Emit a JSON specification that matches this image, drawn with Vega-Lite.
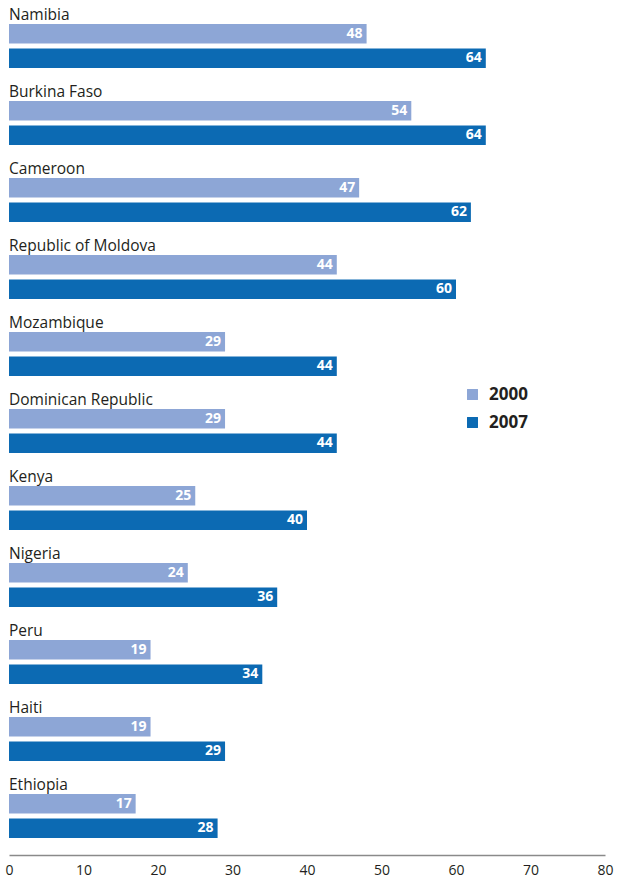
{
  "$schema": "https://vega.github.io/schema/vega-lite/v6.json",
  "width": 596,
  "height": 855,
  "autosize": {"type": "none"},
  "padding": {"left": 9, "top": 0, "right": 12, "bottom": 25},
  "background": "white",
  "config": {"view": {"stroke": null}, "font": "Open Sans"},
  "data": {"values": [
    {"country": "Namibia", "year": "2000", "value": 48},
    {"country": "Namibia", "year": "2007", "value": 64},
    {"country": "Burkina Faso", "year": "2000", "value": 54},
    {"country": "Burkina Faso", "year": "2007", "value": 64},
    {"country": "Cameroon", "year": "2000", "value": 47},
    {"country": "Cameroon", "year": "2007", "value": 62},
    {"country": "Republic of Moldova", "year": "2000", "value": 44},
    {"country": "Republic of Moldova", "year": "2007", "value": 60},
    {"country": "Mozambique", "year": "2000", "value": 29},
    {"country": "Mozambique", "year": "2007", "value": 44},
    {"country": "Dominican Republic", "year": "2000", "value": 29},
    {"country": "Dominican Republic", "year": "2007", "value": 44},
    {"country": "Kenya", "year": "2000", "value": 25},
    {"country": "Kenya", "year": "2007", "value": 40},
    {"country": "Nigeria", "year": "2000", "value": 24},
    {"country": "Nigeria", "year": "2007", "value": 36},
    {"country": "Peru", "year": "2000", "value": 19},
    {"country": "Peru", "year": "2007", "value": 34},
    {"country": "Haiti", "year": "2000", "value": 19},
    {"country": "Haiti", "year": "2007", "value": 29},
    {"country": "Ethiopia", "year": "2000", "value": 17},
    {"country": "Ethiopia", "year": "2007", "value": 28}
  ]},
  "encoding": {
    "y": {
      "field": "country", "type": "nominal", "sort": null,
      "scale": {"paddingInner": 0.42857, "paddingOuter": 0.2662, "align": 0.585},
      "axis": null
    }
  },
  "layer": [
    {
      "mark": {"type": "bar"},
      "encoding": {
        "x": {
          "field": "value", "type": "quantitative",
          "scale": {"domain": [0, 80], "nice": false},
          "axis": {
            "title": null, "grid": false, "ticks": false, "values": [0,10,20,30,40,50,60,70,80],
            "domainColor": "#8a8a8a", "domainWidth": 1.5,
            "labelFont": "Open Sans", "labelFontSize": 14, "labelColor": "#231F20",
            "labelPadding": 8, "labelFlush": false
          }
        },
        "yOffset": {"field": "year", "type": "nominal", "scale": {"paddingInner": 0.204, "paddingOuter": 0}},
        "color": {
          "field": "year", "type": "nominal",
          "scale": {"domain": ["2000", "2007"], "range": ["#8DA6D6", "#0C6AB3"]},
          "legend": {
            "title": null, "orient": "none", "legendX": 455, "legendY": 386,
            "padding": 0, "symbolType": "square", "symbolSize": 120, "symbolStrokeWidth": 0,
            "labelFont": "Open Sans", "labelFontSize": 17, "labelFontWeight": "bold", "labelColor": "#231F20",
            "labelOffset": 8, "rowPadding": 10
          }
        }
      }
    },
    {
      "mark": {"type": "text", "align": "right", "baseline": "middle", "dx": -4, "color": "white", "fontWeight": "bold", "fontSize": 14, "font": "Open Sans"},
      "encoding": {
        "x": {"field": "value", "type": "quantitative"},
        "yOffset": {"field": "year", "type": "nominal"},
        "text": {"field": "value", "type": "quantitative"}
      }
    },
    {
      "transform": [{"filter": "datum.year === '2000'"}],
      "mark": {"type": "text", "align": "left", "baseline": "alphabetic", "dy": -4, "color": "#231F20", "fontSize": 15.5, "font": "Open Sans"},
      "encoding": {
        "x": {"datum": 0},
        "y": {"field": "country", "type": "nominal", "sort": null, "bandPosition": 0},
        "text": {"field": "country"}
      }
    }
  ]
}
